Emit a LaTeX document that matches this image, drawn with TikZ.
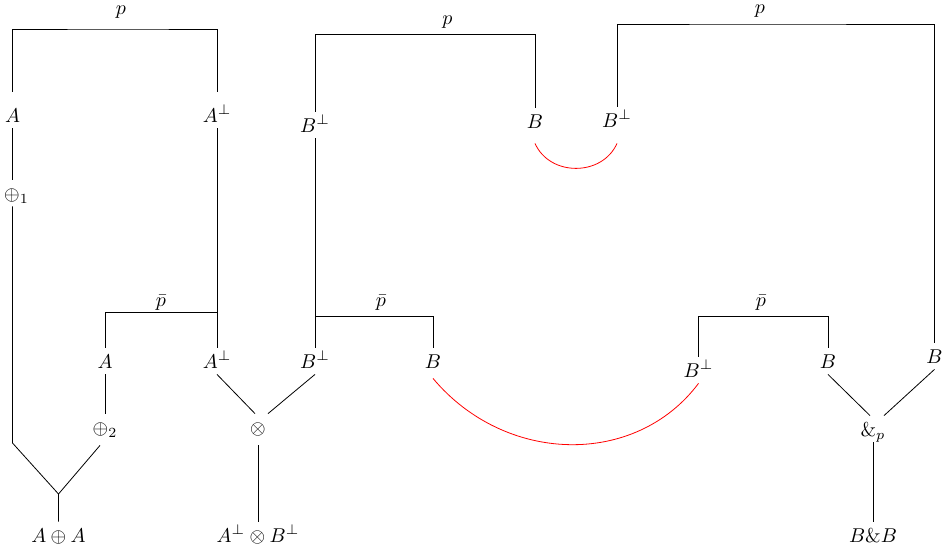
\documentclass[tikz,border=0pt]{standalone}
\usetikzlibrary{calc}
\begin{document}
\begin{tikzpicture}[x=0.5pt,y=-0.5pt,
  v/.style={anchor=base,text height=7pt,text depth=0pt,inner sep=3pt},
  tall/.style={text height=12pt},
  lab/.style={anchor=base,inner sep=0pt},
  wire/.style={black,line width=0.4pt},
  cut/.style={red,line width=0.4pt}]
\useasboundingbox (0,0) rectangle (943,548);
% formula nodes
\node[v,tall] (At) at (12.5,122) {$A$};
\node[v,tall] (Apt) at (217,122) {$A^\perp$};
\node[v] (op1) at (12.5,200) {$\oplus_{\rlap{$\scriptstyle 1$}}$};
\node[v] (Bpt) at (315,132) {$B^\perp$};
\node[v] (Bt) at (535,128) {$B$};
\node[v] (Bptr) at (617,127) {$B^\perp$};
\node[v] (Am) at (105,368) {$A$};
\node[v] (Apm) at (217,368) {$A^\perp$};
\node[v] (Bpm) at (315,368) {$B^\perp$};
\node[v] (Bm) at (433,368) {$B$};
\node[v] (Bpr) at (698.5,377) {$B^\perp$};
\node[v] (Bmr) at (828,368) {$B$};
\node[v] (Bf) at (934.5,363) {$B$};
\node[v] (op2) at (105,434) {$\oplus_2$};
\node[v] (ot) at (258,434) {$\otimes$};
\node[v] (amp) at (873,436) {$\&_p$};
\node[v] (AoA) at (58.5,542) {$A\oplus A$};
\node[v] (AtB) at (258,542) {$A^\perp\otimes B^\perp$};
\node[v] (BB) at (873,542) {$B\&B$};
% labels
\node[lab] (p1) at (121,14) {$p$};
\node[lab] (p2) at (447.5,24) {$p$};
\node[lab] (p3) at (760,13) {$p$};
\node[lab] (q1) at (161,306) {$\bar p$};
\node[lab] (q2) at (381,306) {$\bar p$};
\node[lab] (q3) at (761,306) {$\bar p$};
% bracket heights and junctions
\coordinate (k1) at (121,29);
\coordinate (k2) at (447,34.5);
\coordinate (k3) at (760,24);
\coordinate (k4) at (161,312);
\coordinate (k5) at (381,316);
\coordinate (k6) at (761,316);
\coordinate (c1) at (12.5,443);
\coordinate (J1) at (58.5,494);
% axiom / cut brackets
\draw[wire] (At.north) |- (k1) -| (Apt.north);
\draw[wire] (Bpt.north) |- (k2) -| (Bt.north);
\draw[wire] (Bptr.north) |- (k3) -| (Bf.north);
\draw[wire] (Am.north) |- (k4) -| (Apm.north);
\draw[wire] (Bpm.north) |- (k5) -| (Bm.north);
\draw[wire] (Bpr.north) |- (k6) -| (Bmr.north);
% wires
\draw[wire] (At.south) -- (op1.north);
\draw[wire] (op1.south) -- (c1) -- (J1) -- (AoA.north);
\draw[wire] ([xshift=-2.5pt,yshift=-2.5pt]op2.south) -- (J1);
\draw[wire] (Am.south) -- (op2.north);
\draw[wire] (Apt.south) -- (Apm.north);
\draw[wire] (Bpt.south) -- (Bpm.north);
\draw[wire] (Apm.south) -- ([xshift=-1.5pt]ot.north);
\draw[wire] (Bpm.south) -- ([xshift=5pt]ot.north);
\draw[wire] ([yshift=-2.5pt]ot.south) -- (AtB.north);
\draw[wire] (Bmr.south) -- ([xshift=-1.5pt]amp.north);
\draw[wire] (Bf.south) -- ([xshift=5.5pt]amp.north);
\draw[wire] (amp.south) -- (BB.north);
% red cuts
\draw[cut] ([yshift=-4.5pt]Bt.south) .. controls +(14.8,33.3) and +(-14.8,33.3) .. ([yshift=-5pt]Bptr.south);
\draw[cut] ([yshift=-2pt]Bm.south) .. controls +(72,86) and +(-63,84) .. (Bpr.south);
\end{tikzpicture}
\end{document}
